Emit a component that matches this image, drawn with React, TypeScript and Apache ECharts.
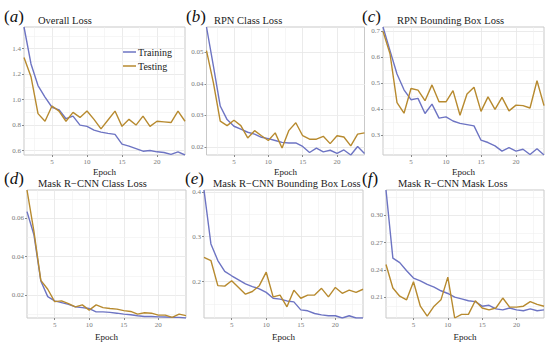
import React, { useEffect, useRef } from "react";
import * as echarts from "echarts";

const epochs = Array.from({ length: 24 }, (_, i) => i + 1);

const overallTrain = [1.57, 1.28, 1.11, 1.02, 0.94, 0.92, 0.85, 0.87, 0.8, 0.79, 0.76, 0.745, 0.735, 0.727, 0.65, 0.635, 0.615, 0.595, 0.6, 0.59, 0.585, 0.57, 0.59, 0.565];
const overallTest = [1.33, 1.18, 0.89, 0.83, 0.95, 0.91, 0.83, 0.9, 0.86, 0.91, 0.845, 0.77, 0.84, 0.91, 0.79, 0.845, 0.8, 0.87, 0.79, 0.83, 0.825, 0.82, 0.91, 0.83];

const rpnClassTrain = [0.058, 0.0457, 0.033, 0.0287, 0.0266, 0.0257, 0.0247, 0.0241, 0.0231, 0.0227, 0.0221, 0.0215, 0.0213, 0.0213, 0.0202, 0.0183, 0.0197, 0.0185, 0.019, 0.018, 0.0191, 0.0175, 0.0202, 0.018];
const rpnClassTest = [0.0505, 0.0404, 0.0282, 0.0268, 0.0285, 0.0268, 0.0229, 0.0252, 0.0236, 0.0221, 0.0245, 0.0197, 0.0253, 0.0277, 0.0236, 0.0225, 0.0225, 0.0234, 0.0211, 0.0236, 0.0232, 0.0204, 0.0241, 0.0245];

const rpnBoxTrain = [0.717, 0.626, 0.536, 0.475, 0.437, 0.442, 0.384, 0.42, 0.366, 0.371, 0.355, 0.346, 0.341, 0.336, 0.281, 0.272, 0.259, 0.239, 0.252, 0.239, 0.246, 0.226, 0.248, 0.224];
const rpnBoxTest = [0.7, 0.614, 0.426, 0.385, 0.48, 0.474, 0.433, 0.494, 0.429, 0.429, 0.472, 0.377, 0.459, 0.485, 0.392, 0.448, 0.4, 0.446, 0.394, 0.416, 0.414, 0.405, 0.51, 0.414];

const maskClassTrain = [0.0634, 0.0514, 0.0274, 0.0193, 0.0171, 0.0162, 0.0153, 0.014, 0.0136, 0.0131, 0.0114, 0.0114, 0.0111, 0.0107, 0.0102, 0.0099, 0.0094, 0.009, 0.009, 0.0088, 0.0087, 0.0085, 0.0085, 0.0082];
const maskClassTest = [0.0746, 0.0531, 0.0277, 0.0231, 0.0167, 0.0171, 0.0157, 0.014, 0.015, 0.0123, 0.015, 0.0136, 0.0131, 0.0128, 0.012, 0.0116, 0.0102, 0.0109, 0.0107, 0.0097, 0.0097, 0.0085, 0.0102, 0.0094];

const maskBoxTrain = [0.404, 0.284, 0.247, 0.223, 0.213, 0.204, 0.195, 0.189, 0.184, 0.176, 0.163, 0.161, 0.157, 0.155, 0.137, 0.135, 0.129, 0.126, 0.124, 0.124, 0.119, 0.124, 0.119, 0.119];
const maskBoxTest = [0.254, 0.247, 0.191, 0.19, 0.202, 0.187, 0.172, 0.178, 0.191, 0.221, 0.166, 0.17, 0.144, 0.181, 0.163, 0.17, 0.17, 0.185, 0.166, 0.187, 0.174, 0.181, 0.176, 0.183];

const maskMaskTrain = [0.328, 0.253, 0.248, 0.239, 0.231, 0.228, 0.224, 0.221, 0.217, 0.214, 0.21, 0.208, 0.206, 0.205, 0.2, 0.201, 0.197, 0.196, 0.198, 0.196, 0.195, 0.197, 0.195, 0.196];
const maskMaskTest = [0.246, 0.22, 0.211, 0.207, 0.227, 0.2, 0.189, 0.2, 0.207, 0.232, 0.187, 0.191, 0.191, 0.206, 0.198, 0.196, 0.198, 0.209, 0.199, 0.199, 0.2, 0.205, 0.202, 0.2];

const titles = ["Overall Loss", "RPN Class Loss", "RPN Bounding Box Loss", "Mask R\u2212CNN Class Loss", "Mask R\u2212CNN Bounding Box Loss", "Mask R\u2212CNN Mask Loss"];
const letters = ["a", "b", "c", "d", "e", "f"];

const xTicks = [5, 10, 15, 20];
const xMinor = [2.5, 7.5, 12.5, 17.5, 22.5];

const yTicksA = [0.6, 0.8, 1.0, 1.2, 1.4];
const yMinorA = [0.7, 0.9, 1.1, 1.3, 1.5];
const yTicksB = [0.02, 0.03, 0.04, 0.05];
const yMinorB = [0.025, 0.035, 0.045, 0.055];
const yTicksC = [0.3, 0.4, 0.5, 0.6, 0.7];
const yMinorC = [0.25, 0.35, 0.45, 0.55, 0.65];
const yTicksD = [0.02, 0.04, 0.06];
const yMinorD = [0.01, 0.03, 0.05, 0.07];
const yTicksE = [0.2, 0.3, 0.4];
const yMinorE = [0.15, 0.25, 0.35];
const yTicksF = [0.21, 0.24, 0.27, 0.3];
const yMinorF = [0.195, 0.225, 0.255, 0.285, 0.315];

const FONT = "Liberation Serif";
const TRAIN_COLOR = "#6d74c3";
const TEST_COLOR = "#b78a2f";

export default function App() {
  const ref = useRef<HTMLDivElement>(null);
  useEffect(() => {
    if (!ref.current) return;
    const chart = echarts.init(ref.current, null, { renderer: "svg" });

    const panels = [
      { train: overallTrain, test: overallTest, ticks: yTicksA, minor: yMinorA, dec: 1, gap: 12, grid: { left: 24, top: 27, width: 161, height: 128 } },
      { train: rpnClassTrain, test: rpnClassTest, ticks: yTicksB, minor: yMinorB, dec: 2, gap: 12, grid: { left: 206.5, top: 27, width: 158, height: 128 } },
      { train: rpnBoxTrain, test: rpnBoxTest, ticks: yTicksC, minor: yMinorC, dec: 1, gap: 12, grid: { left: 383, top: 27, width: 161, height: 128 } },
      { train: maskClassTrain, test: maskClassTest, ticks: yTicksD, minor: yMinorD, dec: 2, gap: 14, grid: { left: 27, top: 190, width: 159, height: 129 } },
      { train: maskBoxTrain, test: maskBoxTest, ticks: yTicksE, minor: yMinorE, dec: 1, gap: 14, grid: { left: 204, top: 190, width: 159, height: 129 } },
      { train: maskMaskTrain, test: maskMaskTest, ticks: yTicksF, minor: yMinorF, dec: 2, gap: 14, grid: { left: 386, top: 190, width: 158, height: 129 } },
    ];

    const grids: any[] = [];
    const xAxes: any[] = [];
    const yAxes: any[] = [];
    const series: any[] = [];
    const graphics: any[] = [];

    panels.forEach((p, i) => {
      grids.push({ ...p.grid, show: true, borderColor: "#c9c9c9", borderWidth: 1, backgroundColor: "transparent" });
      xAxes.push({
        type: "value",
        gridIndex: i,
        min: 1,
        max: 24,
        name: "Epoch",
        nameLocation: "middle",
        nameGap: p.gap,
        nameTextStyle: { fontFamily: FONT, fontSize: 9, color: "#222", lineHeight: 10 },
        axisLine: { show: false },
        axisTick: { show: true, length: 2, lineStyle: { color: "#888" }, customValues: xTicks },
        axisLabel: { fontFamily: FONT, fontSize: 7, color: "#7a7a7a", margin: 3, customValues: xTicks },
        splitLine: { show: true, lineStyle: { color: "#e6e6e6", width: 0.8 } },
      });
      const lo = Math.min(...p.train, ...p.test);
      const hi = Math.max(...p.train, ...p.test);
      yAxes.push({
        type: "value",
        gridIndex: i,
        min: lo,
        max: hi,
        axisLine: { show: false },
        axisTick: { show: true, length: 2, lineStyle: { color: "#888" }, customValues: p.ticks },
        axisLabel: {
          fontFamily: FONT,
          fontSize: 7,
          color: "#7a7a7a",
          margin: 3,
          customValues: p.ticks,
          formatter: (v: number) => v.toFixed(p.dec),
        },
        splitLine: { show: true, lineStyle: { color: "#e6e6e6", width: 0.8 } },
      });
      const minorLines = [
        ...p.minor.filter((v) => v > lo && v < hi).map((v) => ({ yAxis: v })),
        ...xMinor.map((v) => ({ xAxis: v })),
      ];
      series.push({
        name: "Training",
        type: "line",
        xAxisIndex: i,
        yAxisIndex: i,
        data: epochs.map((e, k) => [e, p.train[k]]),
        symbol: "none",
        lineStyle: { color: TRAIN_COLOR, width: 1.4 },
        itemStyle: { color: TRAIN_COLOR },
        z: 3,
        markLine: {
          silent: true,
          symbol: "none",
          z: 1,
          label: { show: false },
          lineStyle: { color: "#f0f0f0", width: 0.6, type: "solid" },
          data: minorLines,
        },
      });
      series.push({
        name: "Testing",
        type: "line",
        xAxisIndex: i,
        yAxisIndex: i,
        data: epochs.map((e, k) => [e, p.test[k]]),
        symbol: "none",
        lineStyle: { color: TEST_COLOR, width: 1.4 },
        itemStyle: { color: TEST_COLOR },
        z: 4,
      });
    });

    const titlePos = [
      [38, 20], [214, 20], [397, 20],
      [38, 183], [213, 183], [398, 183],
    ];
    const letterPos = [
      [4, 16], [186, 16], [362, 16],
      [4, 178], [185, 178], [362, 178],
    ];
    titles.forEach((t, i) => {
      graphics.push({
        type: "text",
        x: titlePos[i][0],
        y: titlePos[i][1],
        style: { text: t, fontFamily: FONT, fontSize: 10.5, fill: "#222", verticalAlign: "middle", align: "left" },
      });
      graphics.push({
        type: "text",
        x: letterPos[i][0],
        y: letterPos[i][1],
        style: {
          text: `{n|(}{i|${letters[i]}}{n|)}`,
          verticalAlign: "middle",
          align: "left",
          rich: {
            n: { fontFamily: FONT, fontSize: 17, fill: "#111" },
            i: { fontFamily: FONT, fontSize: 17, fontStyle: "italic", fill: "#111" },
          },
        },
      });
    });

    chart.setOption({
      animation: false,
      backgroundColor: "#ffffff",
      grid: grids,
      xAxis: xAxes,
      yAxis: yAxes,
      series,
      legend: {
        data: ["Training", "Testing"],
        left: 118,
        top: 41,
        orient: "vertical",
        icon: "rect",
        itemWidth: 13,
        itemHeight: 1.5,
        itemGap: 2,
        textStyle: { fontFamily: FONT, fontSize: 10, color: "#222", lineHeight: 12, padding: [0, 0, 0, -3] },
        selectedMode: false,
      },
      graphic: graphics,
    });
    return () => chart.dispose();
  }, []);
  return <div ref={ref} style={{ width: 550, height: 343, position: "fixed", left: 0, top: 0 }} />;
}
